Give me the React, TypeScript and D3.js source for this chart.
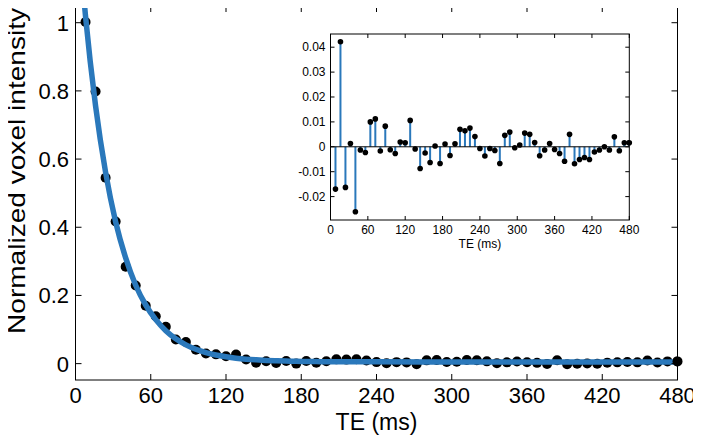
import React from "react";
import * as d3 from "d3";

// TE sample times (ms)
const teValues: number[] = d3.range(1, 61).map((i) => i * 8);

// Measured normalized voxel intensity (main plot dots)
const intensity: number[] = [
  1.002, 0.798, 0.545, 0.417, 0.284, 0.229, 0.17, 0.139, 0.108, 0.071,
  0.0634, 0.0409, 0.0298, 0.0272, 0.0217, 0.0267, 0.0123, 0.0024, 0.007, 0.002,
  0.0078, 0.0001, 0.0075, 0.0025, 0.0069, 0.0126, 0.0118, 0.0128, 0.0093, 0.0045,
  0.0014, 0.0044, 0.0036, -0.0016, 0.0096, 0.0109, 0.0046, 0.0057, 0.0105, 0.01,
  0.0067, 0.0014, 0.0037, 0.0063, 0.0039, 0.0023, -0.0008, 0.01, -0.0018, -0.0001,
  0.0007, -0.0001, 0.0029, 0.0037, 0.005, 0.0037, 0.009, 0.0034, 0.0066, 0.0066,
];

// Fitted curve samples (TE, value)
const fitTE: number[] = [
  0, 8, 16, 24, 32, 40, 48, 56, 64, 72, 80, 88, 96, 104, 112, 120, 128, 136, 144,
  152, 160, 168, 176, 184, 192, 200, 208, 216, 224, 232, 240, 280, 320, 400, 480,
];
const fitValues: number[] = [
  1.375, 1.019, 0.756, 0.561, 0.416, 0.31, 0.23, 0.172, 0.129, 0.0965, 0.0727,
  0.0551, 0.0421, 0.0325, 0.0253, 0.0201, 0.0161, 0.0132, 0.0111, 0.0095, 0.0083,
  0.0075, 0.0068, 0.0064, 0.006, 0.0057, 0.0056, 0.0054, 0.0053, 0.0052, 0.0052,
  0.0051, 0.005, 0.005, 0.005,
];

// Residuals (inset stem plot)
const residuals: number[] = [
  -0.017, 0.0422, -0.0163, 0.0013, -0.0261, -0.0013, -0.0023, 0.01, 0.0112, -0.0017,
  0.0083, -0.0012, -0.0027, 0.0019, 0.0016, 0.0106, -0.0009, -0.0087, -0.0025, -0.0063,
  0.0003, -0.0067, 0.0011, -0.0035, 0.0012, 0.007, 0.0064, 0.0075, 0.0041, -0.0007,
  -0.0037, -0.0007, -0.0015, -0.0067, 0.0046, 0.0059, -0.0004, 0.0007, 0.0055, 0.005,
  0.0017, -0.0036, -0.0013, 0.0013, -0.0011, -0.0027, -0.0058, 0.005, -0.0068, -0.0051,
  -0.0043, -0.0051, -0.0021, -0.0013, 0.0, -0.0013, 0.004, -0.0016, 0.0016, 0.0016,
];

const xTicks: number[] = [0, 60, 120, 180, 240, 300, 360, 420, 480];
const yTicks: number[] = [0, 0.2, 0.4, 0.6, 0.8, 1];
const yTickLabels: string[] = ["0", "0.2", "0.4", "0.6", "0.8", "1"];
const insetYTicks: number[] = [-0.02, -0.01, 0, 0.01, 0.02, 0.03, 0.04];
const insetYTickLabels: string[] = ["-0.02", "-0.01", "0", "0.01", "0.02", "0.03", "0.04"];

const FONT = "'Liberation Sans', Arial, Helvetica, sans-serif";
const BLUE = "#2a78bb";

export default function App() {
  // main axes
  const L = 75.5, R = 677.5, T = 6, B = 380;
  const x = d3.scaleLinear().domain([0, 480]).range([L, R]);
  const y = d3.scaleLinear().domain([-0.048, 1.049]).range([B, T]);

  // inset axes
  const iL = 330.5, iR = 629.3, iT = 34, iB = 220;
  const ix = d3.scaleLinear().domain([0, 480]).range([iL, iR]);
  const iy = d3.scaleLinear().domain([-0.0294, 0.0453]).range([iB, iT]);

  const fitLine = d3
    .line<number>()
    .x((_, i) => x(fitTE[i]))
    .y((d) => y(d))
    .curve(d3.curveMonotoneX)(fitValues) as string;

  const tick = 6;
  const itick = 4;

  return (
    <div style={{ margin: -8 }}>
      <svg width={701} height={444} style={{ display: "block", background: "#fff" }}>
        <defs>
          <clipPath id="mainClip">
            <rect x={L} y={T} width={R - L} height={B - T} />
          </clipPath>
          <clipPath id="insetClip">
            <rect x={iL} y={iT} width={iR - iL} height={iB - iT} />
          </clipPath>
        </defs>
        <rect x={0} y={0} width={701} height={444} fill="#fff" />

        {/* Main data */}
        <g clipPath="url(#mainClip)">
          {intensity.map((v, i) => (
            <circle key={i} cx={x(teValues[i])} cy={y(v)} r={5} fill="#000" />
          ))}
          <path d={fitLine} fill="none" stroke={BLUE} strokeWidth={5.5} strokeLinejoin="round" />
        </g>
        <circle cx={x(teValues[59])} cy={y(intensity[59])} r={5} fill="#000" />

        {/* Main axes box */}
        <rect x={L} y={T} width={R - L} height={B - T} fill="none" stroke="#000" strokeWidth={1} />
        {xTicks.map((t) => (
          <g key={"xt" + t}>
            <line x1={x(t)} x2={x(t)} y1={B} y2={B - tick} stroke="#000" />
            <line x1={x(t)} x2={x(t)} y1={T} y2={T + tick} stroke="#000" />
            <text x={x(t)} y={403} textAnchor="middle" fontFamily={FONT} fontSize={22}>
              {t}
            </text>
          </g>
        ))}
        {yTicks.map((t, i) => (
          <g key={"yt" + t}>
            <line x1={L} x2={L + tick} y1={y(t)} y2={y(t)} stroke="#000" />
            <line x1={R} x2={R - tick} y1={y(t)} y2={y(t)} stroke="#000" />
            <text x={69} y={y(t) + 8} textAnchor="end" fontFamily={FONT} fontSize={22}>
              {yTickLabels[i]}
            </text>
          </g>
        ))}
        <text x={(L + R) / 2} y={430} textAnchor="middle" fontFamily={FONT} fontSize={23}>
          TE (ms)
        </text>
        <text
          transform={`translate(25, 171) rotate(-90)`}
          textAnchor="middle"
          fontFamily={FONT}
          fontSize={24}
          textLength={326}
          lengthAdjust="spacingAndGlyphs"
        >
          Normalized voxel intensity
        </text>

        {/* Inset */}
        <rect x={iL} y={iT} width={iR - iL} height={iB - iT} fill="#fff" />
        <g clipPath="url(#insetClip)">
          {residuals.map((v, i) => (
            <line
              key={"s" + i}
              x1={ix(teValues[i])}
              x2={ix(teValues[i])}
              y1={iy(0)}
              y2={iy(v)}
              stroke={BLUE}
              strokeWidth={2}
            />
          ))}
          <line x1={iL} x2={iR} y1={iy(0)} y2={iy(0)} stroke="#000" strokeWidth={1} />
          {residuals.map((v, i) => (
            <circle key={"c" + i} cx={ix(teValues[i])} cy={iy(v)} r={2.8} fill="#000" />
          ))}
        </g>
        <circle cx={ix(teValues[59])} cy={iy(residuals[59])} r={2.8} fill="#000" />
        <rect x={iL} y={iT} width={iR - iL} height={iB - iT} fill="none" stroke="#000" strokeWidth={1} />
        {xTicks.map((t) => (
          <g key={"ixt" + t}>
            <line x1={ix(t)} x2={ix(t)} y1={iB} y2={iB - itick} stroke="#000" />
            <line x1={ix(t)} x2={ix(t)} y1={iT} y2={iT + itick} stroke="#000" />
            <text x={ix(t)} y={234} textAnchor="middle" fontFamily={FONT} fontSize={12}>
              {t}
            </text>
          </g>
        ))}
        {insetYTicks.map((t, i) => (
          <g key={"iyt" + t}>
            <line x1={iL} x2={iL + itick} y1={iy(t)} y2={iy(t)} stroke="#000" />
            <line x1={iR} x2={iR - itick} y1={iy(t)} y2={iy(t)} stroke="#000" />
            <text x={iL - 5} y={iy(t) + 4} textAnchor="end" fontFamily={FONT} fontSize={12}>
              {insetYTickLabels[i]}
            </text>
          </g>
        ))}
        <text x={(iL + iR) / 2} y={248} textAnchor="middle" fontFamily={FONT} fontSize={12}>
          TE (ms)
        </text>
      </svg>
    </div>
  );
}
